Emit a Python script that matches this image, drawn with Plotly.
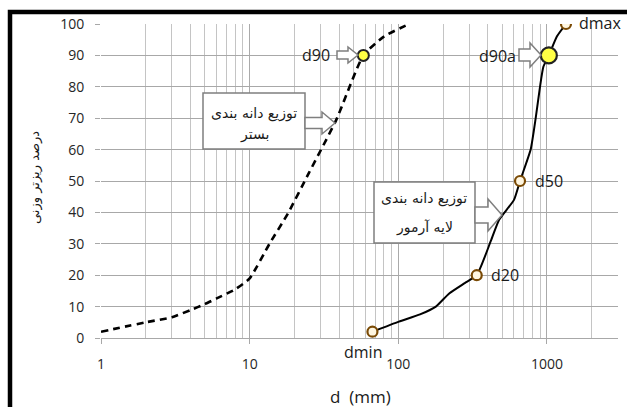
import plotly.graph_objects as go

# Bed material gradation (dashed curve)
bed_d = [1, 2, 3, 4, 5, 6, 8, 10, 13.6, 18.1, 25, 38.2, 58.2, 80, 118]
bed_p = [2, 5, 6.6, 8.9, 10.8, 12.6, 15.5, 19, 30, 39.7, 52.5, 69.4, 90, 96, 100]

# Armour layer gradation (solid curve)
armor_d = [67, 101, 140, 179, 220, 280, 337, 420, 476, 600, 659, 777, 840, 898, 946, 1030, 1166, 1343]
armor_p = [2, 5.2, 7.5, 10, 14.2, 17.5, 20, 31, 37.6, 44, 50, 60, 70, 80, 86.4, 90, 96, 100]

# Characteristic sizes marked on the curves
key_names = ["dmin", "d20", "d50", "dmax"]
key_d = [67, 337, 659, 1343]
key_p = [2, 20, 50, 100]
d90_bed = (58.2, 90)
d90_armor = (1030, 90)

x_ticks = [1, 10, 100, 1000]
y_ticks = [0, 10, 20, 30, 40, 50, 60, 70, 80, 90, 100]

W, H = 627, 407
L, R, T, B = 101, 9, 24, 69
PW, PH = W - L - R, H - T - B


def px(x):
    return (x - L) / PW


def py(y):
    return (H - B - y) / PH


def block_arrow(x0, x1, yc, hb, hh, hl):
    pts = [(x0, yc - hb), (x1 - hl, yc - hb), (x1 - hl, yc - hh), (x1, yc),
           (x1 - hl, yc + hh), (x1 - hl, yc + hb), (x0, yc + hb)]
    return "M " + " L ".join(f"{px(a):.5f},{py(b):.5f}" for a, b in pts) + " Z"


fig = go.Figure()

fig.add_trace(go.Scatter(x=bed_d, y=bed_p, mode="lines",
                         line=dict(color="black", width=2.6, dash="7px,5px", shape="spline", smoothing=0.5),
                         hoverinfo="skip"))
fig.add_trace(go.Scatter(x=armor_d, y=armor_p, mode="lines",
                         line=dict(color="black", width=2, shape="spline", smoothing=0.5),
                         hoverinfo="skip"))
fig.add_trace(go.Scatter(x=key_d, y=key_p, mode="markers",
                         marker=dict(size=10, color="#fff6e0", line=dict(color="#7a4a05", width=2.2)),
                         hoverinfo="skip"))
fig.add_trace(go.Scatter(x=[d90_bed[0]], y=[d90_bed[1]], mode="markers",
                         marker=dict(size=11, color="#ffff44", line=dict(color="#222", width=2)),
                         hoverinfo="skip"))
fig.add_trace(go.Scatter(x=[d90_armor[0]], y=[d90_armor[1]], mode="markers",
                         marker=dict(size=16, color="#ffff44", line=dict(color="#222", width=2.2)),
                         hoverinfo="skip"))

grid_h = "#a8a8a8"
grid_v = "#c4c4c4"
tick_font = dict(family="Open Sans", size=14, color="#262626")

fig.update_xaxes(type="log", range=[0, 3.478], tickvals=x_ticks, ticktext=[str(v) for v in x_ticks],
                 showgrid=True, gridcolor="#aaaaaa", gridwidth=1,
                 minor=dict(dtick="D1", showgrid=True, gridcolor=grid_v, gridwidth=1, ticks=""),
                 ticks="outside", ticklen=5, tickcolor=grid_h, tickfont=tick_font,
                 showline=True, linecolor=grid_h, linewidth=1.3, zeroline=False,
                 ticklabelstandoff=8)
fig.update_yaxes(range=[0, 100], tickvals=y_ticks, showgrid=True, gridcolor=grid_h, gridwidth=1.3,
                 ticks="outside", ticklen=5, tickcolor=grid_h, tickfont=tick_font,
                 showline=False, zeroline=False, ticklabelstandoff=8)

shapes = []
# outer frame
shapes.append(dict(type="rect", xref="paper", yref="paper",
                   x0=px(10), x1=px(660), y0=py(440), y1=py(12),
                   line=dict(color="black", width=4.5), fillcolor="rgba(0,0,0,0)", layer="above"))
# callout boxes
for (x0, x1, y0, y1) in [(203, 305, 93, 149), (374, 475, 182, 243)]:
    shapes.append(dict(type="rect", xref="paper", yref="paper",
                       x0=px(x0), x1=px(x1), y0=py(y1), y1=py(y0),
                       line=dict(color="#7f7f7f", width=1.5), fillcolor="white", layer="above"))
# hollow block arrows
for args in [(305, 335, 123, 5.5, 11, 13), (475, 502, 215, 8, 16, 14),
             (337, 358, 55, 4, 8, 10), (519, 541, 55, 6, 12, 11)]:
    shapes.append(dict(type="path", xref="paper", yref="paper", path=block_arrow(*args),
                       line=dict(color="#7f7f7f", width=1.5), fillcolor="white", layer="above"))

ann = []
lab_font = dict(family="Open Sans", size=16, color="#1a1a1a")
ar_font = dict(family="DejaVu Sans", size=14, color="#1a1a1a")


def text(t, x, y, font, xanchor="center", angle=0):
    ann.append(dict(text=t, x=px(x), y=py(y), xref="paper", yref="paper", showarrow=False,
                    font=font, xanchor=xanchor, yanchor="middle", textangle=angle))


text("d90", 316, 55, lab_font)
text("d90a", 497, 56, lab_font)
text("dmax", 577, 23, lab_font, xanchor="left")
text("d50", 533, 181, lab_font, xanchor="left")
text("d20", 489, 275, lab_font, xanchor="left")
text("dmin", 363, 352, lab_font)

text("توزیع دانه بندی", 254, 113, ar_font)
text("بستر", 254, 134, ar_font)
text("توزیع دانه بندی", 424, 198, ar_font)
text("لایه آرمور", 424, 227, ar_font)

text("d  (mm)", 360, 396, dict(family="Open Sans", size=17, color="#1a1a1a"))
text("درصد ریزتر وزنی", 35, 178, dict(family="DejaVu Sans", size=13, color="#1a1a1a"), angle=-90)

fig.update_layout(width=W, height=H, margin=dict(l=L, r=R, t=T, b=B),
                  paper_bgcolor="white", plot_bgcolor="white", showlegend=False,
                  shapes=shapes, annotations=ann)

fig.write_html("out.html")
